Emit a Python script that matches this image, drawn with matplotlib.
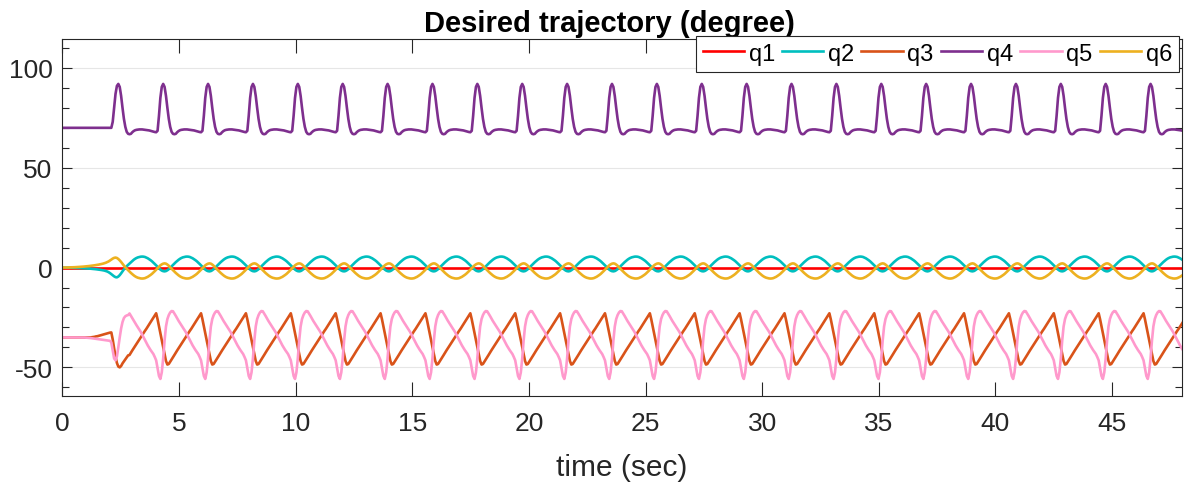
import numpy as np
import matplotlib
matplotlib.use('Agg')
import matplotlib.pyplot as plt
from matplotlib.ticker import MultipleLocator

plt.rcParams['font.family'] = ['Liberation Sans', 'DejaVu Sans']
plt.rcParams['axes.unicode_minus'] = False

# start-up segment, sampled every 0.06 s from t = 0
START_STEP = 0.06
# steady gait: one cycle, 32 samples, repeated
CYCLE_START = 2.88
PERIOD = 1.924
N_CYCLES = 24

labels = ['q1', 'q2', 'q3', 'q4', 'q5', 'q6']
colors = ['#FF0000', '#00BFBF', '#D95319', '#7E2F8E', '#FF99CC', '#EDB120']

q1_start = [0.0] * 48
q1_cycle = [0.0] * 32

q2_start = [0, 0, -0.01, -0.01, -0.02, -0.03, -0.05, -0.07, -0.09, -0.11,
            -0.14, -0.17, -0.2, -0.23, -0.27, -0.31, -0.35, -0.4, -0.45, -0.5,
            -0.56, -0.62, -0.69, -0.76, -0.84, -0.93, -1.02, -1.12, -1.23, -1.35,
            -1.5, -1.7, -1.95, -2.3, -2.75, -3.3, -3.9, -4.4, -4.8, -4.9,
            -4.5, -3.8, -2.9, -1.9, -0.9, 0.0, 0.7, 1.35]
q2_cycle = [2.0, 2.7, 3.3, 3.9, 4.4, 4.8, 5.1, 5.3, 5.45, 5.5,
            5.45, 5.3, 5.0, 4.65, 4.2, 3.7, 3.15, 2.5, 1.8, 1.1,
            0.35, -0.35, -1.0, -1.5, -1.8, -1.9, -1.75, -1.35, -0.8, -0.1,
            0.6, 1.35]

q3_start = [-35.0] * 21 + [
    -34.9, -34.8, -34.7, -34.5, -34.4, -34.2, -34.0, -33.8, -33.6, -33.4,
    -33.2, -33.0, -32.8, -32.6, -32.5, -36.0, -40.5, -44.5, -47.8, -49.6,
    -50.0, -49.3, -48.0, -47.0, -46.0, -45.0, -44.0]
q3_cycle = [-43.8, -42.6, -41.5, -40.4, -39.3, -38.2, -37.2, -36.1, -35.0, -33.9,
            -32.8, -31.7, -30.7, -29.6, -28.5, -27.4, -26.3, -25.2, -24.0, -22.9,
            -25.9, -29.4, -33.0, -36.5, -40.0, -43.6, -46.8, -48.6, -48.3, -47.2,
            -46.0, -44.9]

q4_start = [70.0] * 36 + [73.0, 80.0, 87.0, 91.0, 92.0, 90.5, 86.0, 80.0,
                          74.5, 70.5, 68.0, 67.0]
q4_cycle = [66.8, 67.0, 67.8, 68.4, 68.8, 69.0, 69.1, 69.2, 69.2, 69.2,
            69.1, 69.0, 68.9, 68.8, 68.7, 68.5, 68.3, 68.1, 67.9, 67.8,
            68.5, 76.0, 85.0, 90.5, 92.0, 90.5, 86.0, 80.0, 74.5, 70.5,
            68.0, 67.0]

q5_start = [-35.0] * 16 + [
    -35.05, -35.1, -35.15, -35.2, -35.3, -35.4, -35.5, -35.6, -35.7, -35.8,
    -35.9, -36.0, -36.1, -36.2, -36.3, -36.4, -36.5, -36.6, -36.7, -37.5,
    -41.5, -45.5, -46.5, -44.5, -40.0, -35.0, -30.5, -27.3, -25.3, -24.4,
    -24.0, -23.8]
q5_cycle = [-23.0, -24.2, -25.5, -26.7, -27.8, -28.9, -30.0, -31.1, -32.2, -33.5,
            -34.9, -36.3, -37.7, -39.0, -40.2, -41.3, -42.3, -43.3, -44.8, -46.5,
            -50.5, -54.3, -55.8, -52.5, -45.5, -36.5, -29.5, -25.8, -23.8, -22.5,
            -21.8, -21.9]

q6_start = [0, 0, 0.01, 0.02, 0.04, 0.06, 0.08, 0.11, 0.14, 0.18,
            0.22, 0.26, 0.31, 0.36, 0.41, 0.47, 0.53, 0.6, 0.67, 0.75,
            0.83, 0.92, 1.02, 1.12, 1.23, 1.35, 1.48, 1.62, 1.78, 1.95,
            2.15, 2.4, 2.7, 3.05, 3.5, 4.0, 4.5, 4.85, 5.0, 4.8,
            4.3, 3.6, 2.8, 1.9, 1.0, 0.1, -0.6, -1.35]
q6_cycle = [-2.0, -2.7, -3.3, -3.9, -4.4, -4.8, -5.1, -5.3, -5.45, -5.5,
            -5.45, -5.3, -5.0, -4.65, -4.2, -3.7, -3.15, -2.5, -1.8, -1.1,
            -0.35, 0.4, 1.1, 1.6, 1.95, 2.1, 1.95, 1.5, 0.9, 0.1,
            -0.6, -1.35]

starts = [q1_start, q2_start, q3_start, q4_start, q5_start, q6_start]
cycles = [q1_cycle, q2_cycle, q3_cycle, q4_cycle, q5_cycle, q6_cycle]

# time axis
t_start = np.arange(len(q1_start)) * START_STEP
n_c = len(q1_cycle)
t_cyc = (CYCLE_START + np.arange(N_CYCLES)[:, None] * PERIOD
         + np.arange(n_c)[None, :] * PERIOD / n_c).ravel()
t = np.concatenate([t_start, t_cyc])

fig = plt.figure(figsize=(11.85, 4.89), dpi=100)
ax = fig.add_axes([0.0526, 0.1875, 0.9449, 0.7307])

for lab, col, s, c in zip(labels, colors, starts, cycles):
    y = np.concatenate([np.asarray(s, float), np.tile(c, N_CYCLES)])
    ax.plot(t, y, color=col, lw=1.9, label=lab)

ax.set_xlim(0, 48)
ax.set_ylim(-64.5, 114.5)
ax.xaxis.set_major_locator(MultipleLocator(5))
ax.yaxis.set_major_locator(MultipleLocator(50))
ax.yaxis.set_minor_locator(MultipleLocator(10))

ax.grid(True, axis='y', which='major', color='#e6e6e6', lw=0.8)
ax.set_axisbelow(True)

dark = '#262626'
for sp in ax.spines.values():
    sp.set_color(dark)
    sp.set_linewidth(0.8)
ax.tick_params(axis='both', which='both', direction='in', colors=dark,
               top=True, right=True, labelsize=19, width=0.8)
ax.tick_params(axis='x', which='major', length=10, pad=10.5)
ax.tick_params(axis='y', which='major', length=7.5, pad=7)
ax.tick_params(axis='y', which='minor', length=5)

ax.set_xlabel('time (sec)', fontsize=21.5, color=dark, labelpad=13)
ax.set_title('Desired trajectory (degree)', fontsize=21, fontweight='bold',
             color='black', pad=6, x=0.489)

leg = ax.legend(loc='upper right', bbox_to_anchor=(0.995, 0.925),
                bbox_transform=fig.transFigure, ncol=6, fontsize=17,
                frameon=True, fancybox=False, framealpha=1,
                edgecolor=dark, borderpad=0.3, handlelength=1.75,
                handletextpad=0.2, columnspacing=0.3, borderaxespad=0)
leg.get_frame().set_linewidth(0.8)

fig.savefig('out.png', dpi=100)
